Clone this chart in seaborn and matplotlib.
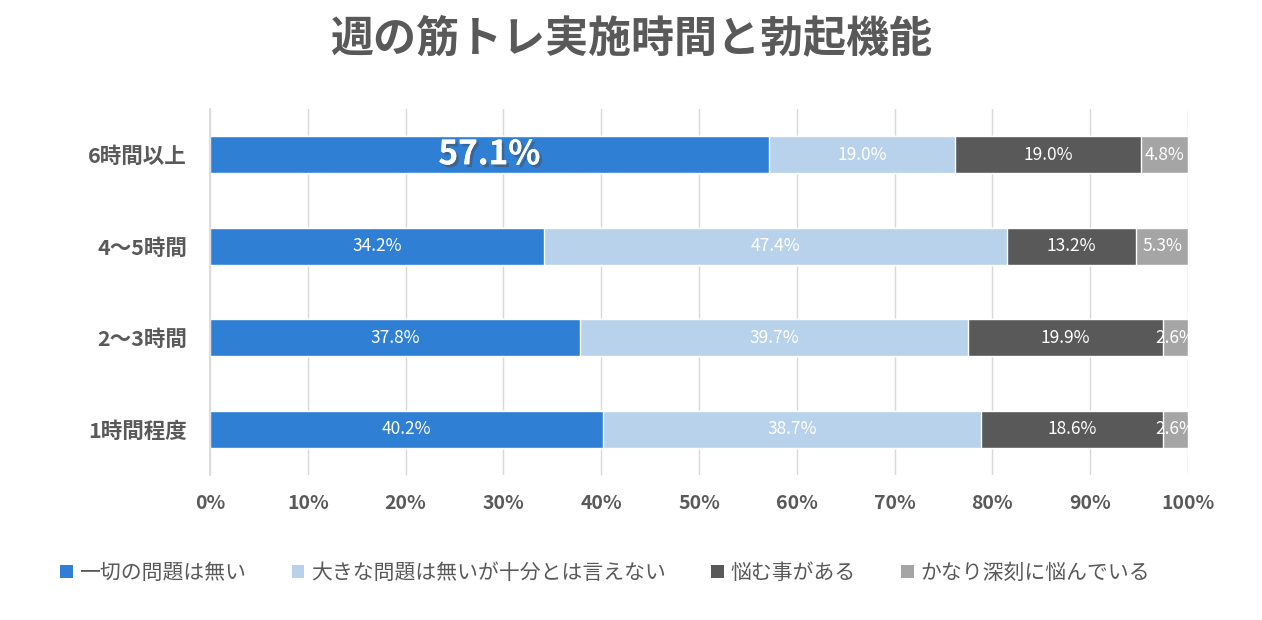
import numpy as np
import pandas as pd
import matplotlib
matplotlib.use("Agg")
import matplotlib.pyplot as plt
import matplotlib.patheffects as pe
from matplotlib.patches import Patch
import seaborn as sns

# data
categories = ["6時間以上", "4～5時間", "2～3時間", "1時間程度"]
series_names = ["一切の問題は無い", "大きな問題は無いが十分とは言えない", "悩む事がある", "かなり深刻に悩んでいる"]
none_at_all = [57.1, 34.2, 37.8, 40.2]
not_enough = [19.0, 47.4, 39.7, 38.7]
sometimes = [19.0, 13.2, 19.9, 18.6]
serious = [4.8, 5.3, 2.6, 2.6]
colors = ["#2F7FD5", "#B7D2EA", "#595959", "#A5A5A5"]

sns.set_theme(style="white")
plt.rcParams["font.family"] = ["Noto Sans CJK JP", "DejaVu Sans"]

vals = np.array([none_at_all, not_enough, sometimes, serious])
share = vals / vals.sum(axis=0) * 100  # percent-stacked like the source
cum = np.cumsum(share, axis=0)

df = pd.DataFrame({"category": categories})
for i, name in enumerate(series_names):
    df[name] = cum[i]

fig = plt.figure(figsize=(12.62, 6.2), dpi=100)
ax = fig.add_axes([210 / 1262, 1 - 475 / 620, 978 / 1262, 366 / 620])

# draw the widest (cumulative) layer first, then cover it with the shorter ones
for i in reversed(range(len(series_names))):
    sns.barplot(data=df, x=series_names[i], y="category", orient="h",
                color=colors[i], width=0.4, saturation=1, ax=ax, order=categories)

for j, cat in enumerate(categories):
    left = 0
    for i in range(len(series_names)):
        mid = left + share[i, j] / 2
        txt = f"{vals[i, j]:.1f}%"
        if i == 0 and j == 0:
            ax.text(mid, j, txt, ha="center", va="center", color="white",
                    fontsize=24, fontweight="bold",
                    path_effects=[pe.withSimplePatchShadow(offset=(2, -2), alpha=0.5),
                                  pe.Normal()])
        else:
            ax.text(mid, j, txt, ha="center", va="center", color="white", fontsize=12.5)
        left += share[i, j]

ax.set_xlim(0, 100)
ax.set_ylim(3.5, -0.5)
ax.set_xticks(np.arange(0, 101, 10))
ax.set_xticklabels([f"{t}%" for t in range(0, 101, 10)])
ax.xaxis.grid(True, color="#D9D9D9", linewidth=1)
ax.set_axisbelow(True)
ax.set_xlabel("")
ax.set_ylabel("")
for s in ["top", "right", "bottom"]:
    ax.spines[s].set_visible(False)
ax.spines["left"].set_color("#D9D9D9")
ax.tick_params(axis="both", length=0, colors="#595959")
ax.tick_params(axis="x", pad=14, labelsize=14)
ax.tick_params(axis="y", pad=16.5, labelsize=15.5)
for lab in ax.get_xticklabels() + ax.get_yticklabels():
    lab.set_fontweight("bold")

fig.text(0.5, 1 - 38 / 620, "週の筋トレ実施時間と勃起機能", ha="center", va="center",
         fontsize=31, fontweight="bold", color="#595959")

handles = [Patch(facecolor=c, edgecolor="none") for c in colors]
leg = fig.legend(handles, series_names, loc="center", bbox_to_anchor=(605 / 1262, 1 - 573 / 620),
                 ncol=4, frameon=False, fontsize=15, handlelength=0.6, handleheight=0.6,
                 handletextpad=0.3, columnspacing=2.2, labelcolor="#595959")

fig.savefig("out.png", dpi=100)
